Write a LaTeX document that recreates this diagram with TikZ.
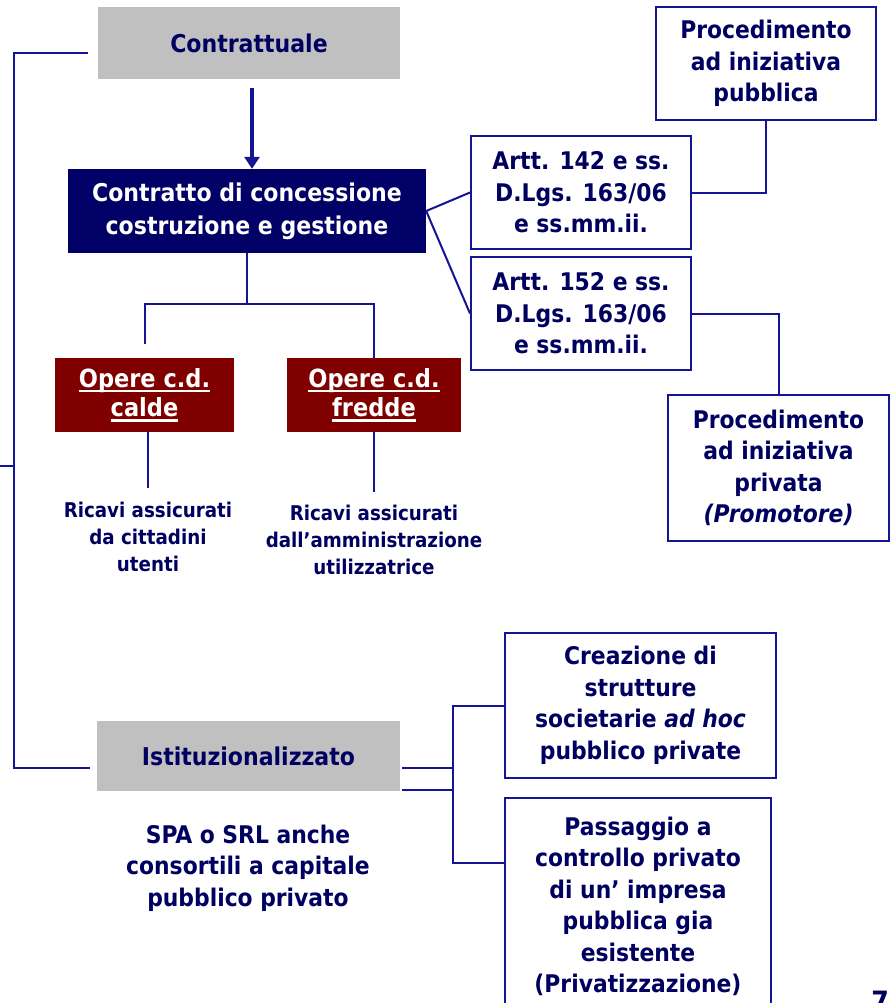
\documentclass[tikz,border=0pt]{standalone}
\usepackage{fontspec}
\setmainfont{DejaVu Sans Condensed}
\usetikzlibrary{arrows.meta}
\definecolor{inkblue}{RGB}{0,0,96}
\definecolor{lineblue}{RGB}{20,20,150}
\definecolor{boxnavy}{RGB}{0,0,102}
\definecolor{boxred}{RGB}{128,0,0}
\definecolor{boxgray}{RGB}{192,192,192}
\newcommand{\undl}[1]{\setbox0\hbox{#1}\rlap{\rule[-5pt]{\wd0}{2.5pt}}\box0}
\tikzset{x=1pt, y=-1pt,
every node/.style={text=inkblue, align=center, inner sep=0pt},
big/.style={font=\bfseries\fontsize{24.5}{33}\selectfont},
mid/.style={font=\bfseries\fontsize{24.3}{31.5}\selectfont},
small/.style={font=\bfseries\fontsize{20.3}{26.7}\selectfont},
link/.style={draw=lineblue, line width=2pt},
graybox/.style={big, fill=boxgray},
navybox/.style={big, fill=boxnavy, text=white},
redbox/.style={font=\bfseries\fontsize{25}{29}\selectfont, fill=boxred, text=white},
linebox/.style={mid, draw=lineblue, line width=2pt, fill=white}}

\begin{document}
\begin{tikzpicture}
\useasboundingbox (0,0) rectangle (890,1003);
\fill[white] (0,0) rectangle (890,1003);
% upper branch
\node[graybox, minimum width=302pt, minimum height=72pt] (contr) at (249,43) {Contrattuale};
\node[navybox, minimum width=358pt, minimum height=84pt] (conc) at (247,211) {Contratto di concessione\\costruzione e gestione};
\node[redbox, minimum width=179pt, minimum height=74pt] (calde) at (144.5,395) {\undl{Opere c.d.}\\\undl{calde}};
\node[redbox, minimum width=174pt, minimum height=74pt] (fredde) at (374,395) {\undl{Opere c.d.}\\\undl{fredde}};
\node[small] (ricavia) at (148,537) {Ricavi assicurati\\da cittadini\\utenti};
\node[small] (ricavib) at (374,540) {Ricavi assicurati\\dall’amministrazione\\utilizzatrice};
\node[linebox, minimum width=220pt, minimum height=113pt] (arta) at (581,192.5) {Artt. 142 e ss.\\D.Lgs. 163/06\\e ss.mm.ii.};
\node[linebox, minimum width=220pt, minimum height=113pt] (artb) at (581,313.5) {Artt. 152 e ss.\\D.Lgs. 163/06\\e ss.mm.ii.};
\node[linebox, minimum width=220pt, minimum height=113pt] (procpub) at (766,63.5) {Procedimento\\ad iniziativa\\pubblica};
\node[linebox, minimum width=221pt, minimum height=146pt] (procpriv) at (778.5,468) {Procedimento\\ad iniziativa\\privata\\\textit{(Promotore)}};
% lower branch
\node[graybox, minimum width=303pt, minimum height=70pt] (istit) at (248.5,756) {Istituzionalizzato};
\node[mid] (spa) at (248,868) {SPA o SRL anche\\consortili a capitale\\pubblico privato};
\node[linebox, minimum width=271pt, minimum height=145pt] (creaz) at (640.5,705.5) {Creazione di\\strutture\\societarie \textit{ad hoc}\\pubblico private};
\node[linebox, minimum width=266pt, minimum height=217pt] (pass) at (638,906.5) {Passaggio a\\controllo privato\\di un’ impresa\\pubblica gia\\esistente\\(Privatizzazione)};
\node[font=\bfseries\fontsize{28}{28}\selectfont, anchor=north] (pnum) at (880,991) {7};

\draw[lineblue, line width=4pt, -{Triangle[length=12pt,width=15pt]}] ([xshift=3pt,yshift=-9pt]contr.south) -- ([xshift=5pt]conc.north);
\draw[link] (conc.south) -- ++(0,51) coordinate (fork);
\draw[link] ([yshift=14pt]calde.north) |- (fork) -| (fredde.north);
\draw[link] ([xshift=3.5pt]calde.south) -- ([yshift=14pt]ricavia.north);
\draw[link] (fredde.south) -- ([yshift=13pt]ricavib.north);
\draw[link] (conc.east) -- (arta.west);
\draw[link] (conc.east) -- (artb.west);
\draw[link] (procpub.south) |- (arta.east);
\draw[link] (artb.east) -| (procpriv.north);

\coordinate (tick) at (14,466);
\draw[link] ([shift={(-10pt,-10pt)}]contr.west) -| (tick) |- ([shift={(-7pt,-12pt)}]istit.west);
\draw[link] (tick) -- ++(-14,0);

\coordinate (jtop) at (453,705.5);
\coordinate (jlow) at (453,863);
\draw[link] (creaz.west) -- (jtop) -- (jlow) -- (jlow -| pass.west);
\draw[link] ([shift={(2pt,-12pt)}]istit.east) -- ++(51,0);
\draw[link] ([shift={(2pt,-34pt)}]istit.east) -- ++(51,0);
\end{tikzpicture}
\end{document}
